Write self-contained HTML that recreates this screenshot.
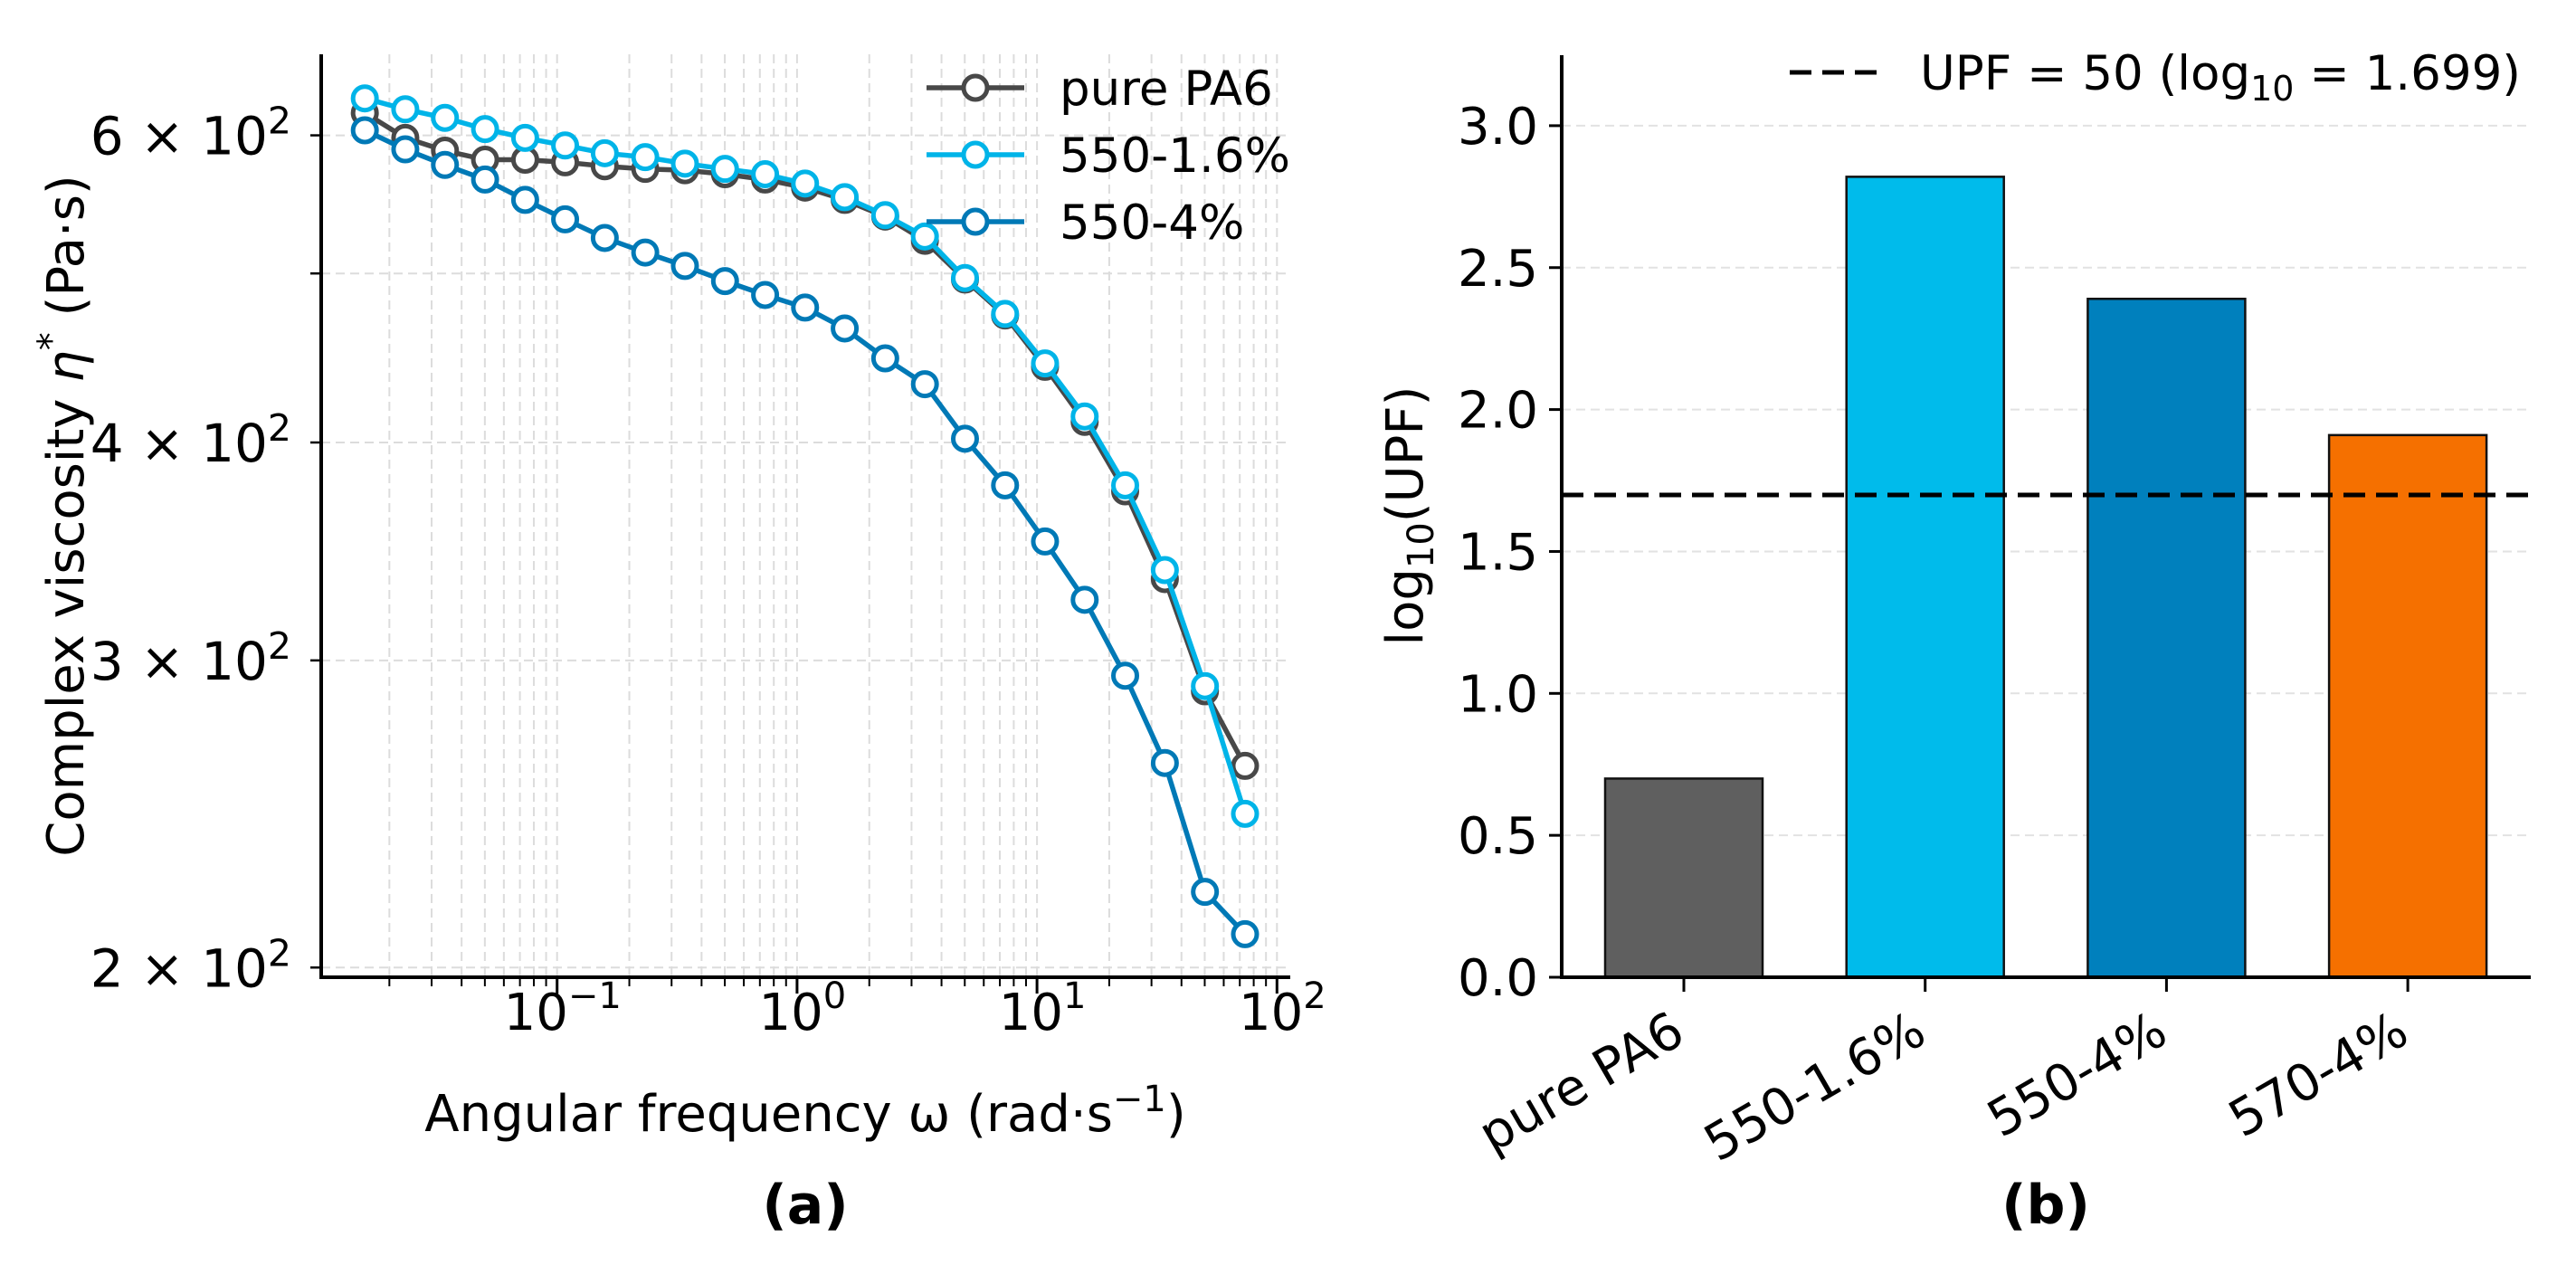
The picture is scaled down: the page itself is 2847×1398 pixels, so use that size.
<!DOCTYPE html>
<html><head><meta charset="utf-8"><title>Viscosity and UPF</title>
<style>
html,body{margin:0;padding:0;background:#fff;}
svg{display:block;font-family:"DejaVu Sans","Liberation Sans",sans-serif;}
</style></head>
<body>
<svg id="fig" xmlns="http://www.w3.org/2000/svg" width="2847" height="1398" viewBox="0 0 2847 1398">
<rect width="2847" height="1398" fill="#fff"/>
<g id="left"></g>
<g id="right"></g>
</svg>
<script>
// ---- Panel (a) data ----
const omega = [0.0158,0.0233,0.0341,0.0501,0.0736,0.108,0.158,0.233,0.341,0.501,0.736,1.08,1.58,2.33,3.41,5.01,7.36,10.8,15.8,23.3,34.1,50.1,73.6];
const etaPure = [618,598,588,581,581,579,576,574,573,570,566,560,551,539,522,496,473,442,411,375,334,288,261];
const eta550_16 = [630,621,614,605,598,592,586,583,578,574,570,563,553,540,525,497,474,444,414,378,338,290,245];
const eta550_4 = [604,589,577,566,551,537,524,514,505,495,486,478,465,447,432,402,378,351,325,294,262,221,209];
const seriesNames = ["pure PA6","550-1.6%","550-4%"];
const yTickVals = [200,300,400,600];
const yTickMant = ["2","3","4","6"];
const xTickExp = [-1,0,1,2];
// ---- Panel (b) data ----
const categories = ["pure PA6","550-1.6%","550-4%","570-4%"];
const upfLog = [0.70,2.82,2.39,1.91];
const upfThreshold = 1.699;
const barTicks = ["0.0","0.5","1.0","1.5","2.0","2.5","3.0"];

const NS="http://www.w3.org/2000/svg";
function mk(parent,tag,attrs,text){const e=document.createElementNS(NS,tag);for(const k in attrs)e.setAttribute(k,attrs[k]);if(text!==undefined)e.textContent=text;parent.appendChild(e);return e;}

// ===== Panel (a) =====
const L=document.getElementById('left');
const ax={x0:355,x1:1426,y0:60,y1:1080};
function xs(w){return 615.7+(Math.log10(w)+1)*265.2;}
function ys(v){return 489-1927.6*Math.log10(v/400);}
for(let k=-2;k<=2;k++){for(let m=1;m<=9;m++){const v=m*Math.pow(10,k);const x=xs(v);if(x<ax.x0+2||x>ax.x1-2)continue;
 const g=mk(L,'line',{x1:x,x2:x,y1:ax.y0,y2:ax.y1,stroke:'#dcdcdc','stroke-width':2,'stroke-dasharray':'10,6'});
 
 
 const t=mk(L,'line',{x1:x,x2:x,y1:ax.y1,y2:ax.y1+(m===1?18:10),stroke:'#000','stroke-width':m===1?3:2});
 
 
}}
[200,300,400,500,600].forEach(v=>{const y=ys(v);
 const g=mk(L,'line',{x1:ax.x0,x2:ax.x1,y1:y,y2:y,stroke:'#dcdcdc','stroke-width':2,'stroke-dasharray':'10,6'});
 
 
 const t=mk(L,'line',{x1:ax.x0-12,x2:ax.x0,y1:y,y2:y,stroke:'#000','stroke-width':2.5});
 
 
});
yTickVals.forEach((v,i)=>{const y=ys(v);
 const t=mk(L,'text',{x:322,y:y+21,'text-anchor':'end','font-size':58,fill:'#000'});
 
 
 mk(t,'tspan',{},yTickMant[i]+' × 10');
 mk(t,'tspan',{dy:-23,'font-size':41},'2');
});
xTickExp.forEach(e=>{const x=xs(Math.pow(10,e));
 const t=mk(L,'text',{x:x+6,y:1138,'text-anchor':'middle','font-size':56,fill:'#000'});
 
 
 mk(t,'tspan',{},'10');
 mk(t,'tspan',{dy:-24,'font-size':40},e<0?'−'+(-e):String(e));
});
mk(L,'line',{x1:ax.x0,x2:ax.x0,y1:ax.y0,y2:ax.y1+2,stroke:'#000','stroke-width':4});
mk(L,'line',{x1:ax.x0-2,x2:ax.x1,y1:ax.y1,y2:ax.y1,stroke:'#000','stroke-width':4});
const colors=['#484848','#00b4e8','#0079b6'];
const sData=[etaPure,eta550_16,eta550_4];
sData.forEach((d,si)=>{
 const g=mk(L,'g',{});
 
 
 const pts=d.map((v,i)=>xs(omega[i]).toFixed(1)+','+ys(v).toFixed(1)).join(' ');
 mk(g,'polyline',{points:pts,fill:'none',stroke:colors[si],'stroke-width':5.5,'stroke-linejoin':'round'});
 d.forEach((v,i)=>{const c=mk(g,'circle',{cx:xs(omega[i]),cy:ys(v),r:13,fill:'#fff',stroke:colors[si],'stroke-width':5});
  
  });
});
const lg=mk(L,'g',{});


seriesNames.forEach((n,i)=>{const y=97+i*74;
 const e=mk(lg,'g',{});
 
 
 mk(e,'line',{x1:1024,x2:1132,y1:y,y2:y,stroke:colors[i],'stroke-width':5.5});
 mk(e,'circle',{cx:1078,cy:y,r:13,fill:'#fff',stroke:colors[i],'stroke-width':5});
 mk(e,'text',{x:1171,y:y+19,'font-size':53,fill:'#000'},n);
});
const yl=mk(L,'text',{x:0,y:0,transform:'translate(92,570) rotate(-90)','text-anchor':'middle','font-size':56,fill:'#000'});


mk(yl,'tspan',{},'Complex viscosity ');
mk(yl,'tspan',{'font-style':'italic'},'η');
mk(yl,'tspan',{dy:-22,'font-size':40},'*');
mk(yl,'tspan',{dy:22},'  (Pa·s)');
const xl=mk(L,'text',{x:890,y:1250,'text-anchor':'middle','font-size':56,fill:'#000'});


mk(xl,'tspan',{},'Angular frequency ω (rad·s');
mk(xl,'tspan',{dy:-22,'font-size':40},'−1');
mk(xl,'tspan',{dy:22},')');
const pa=mk(L,'text',{x:890,y:1352,'text-anchor':'middle','font-size':60,'font-weight':'bold',fill:'#000'},'(a)');



// ===== Panel (b) =====
const R=document.getElementById('right');
const bx={x0:1726,x1:2797,y0:61,y1:1080};
function bxs(i){return 1861+i*266.7;}
function bys(v){return 1080-313.7*v;}
barTicks.forEach(s=>{const v=parseFloat(s);const y=bys(v);
 if(v>0){const g=mk(R,'line',{x1:bx.x0,x2:bx.x1,y1:y,y2:y,stroke:'#e2e2e2','stroke-width':2,'stroke-dasharray':'10,6'});
 
 }
 mk(R,'line',{x1:bx.x0-14,x2:bx.x0,y1:y,y2:y,stroke:'#000','stroke-width':3});
 const t=mk(R,'text',{x:1700,y:y+20,'text-anchor':'end','font-size':56,fill:'#000'},s);
 
 
});
const barColors=['#5f5f5f','#00bbeb','#0080bd','#f57000'];
categories.forEach((c,i)=>{const x=bxs(i);
 const b=mk(R,'rect',{x:x-87,y:bys(upfLog[i]),width:174,height:bys(0)-bys(upfLog[i]),fill:barColors[i],stroke:'#111','stroke-width':2.5});
 
 
 mk(R,'line',{x1:x,x2:x,y1:bx.y1,y2:bx.y1+16,stroke:'#000','stroke-width':3});
 const t=mk(R,'text',{x:0,y:0,transform:'translate('+(x+4)+',1150) rotate(-30)','text-anchor':'end','font-size':56,fill:'#000'},c);
 
 
});
const th=mk(R,'line',{x1:bx.x0,x2:bx.x1,y1:bys(upfThreshold),y2:bys(upfThreshold),stroke:'#000','stroke-width':5,'stroke-dasharray':'24,12'});


mk(R,'line',{x1:bx.x0,x2:bx.x0,y1:bx.y0,y2:bx.y1+2,stroke:'#000','stroke-width':4});
mk(R,'line',{x1:bx.x0-2,x2:bx.x1,y1:bx.y1,y2:bx.y1,stroke:'#000','stroke-width':4});
const bl=mk(R,'g',{});


mk(bl,'line',{x1:1978,x2:2074,y1:80,y2:80,stroke:'#000','stroke-width':5,'stroke-dasharray':'24,12'});
const blt=mk(bl,'text',{x:2122,y:99,'font-size':53,fill:'#000'});
mk(blt,'tspan',{},'UPF = 50 (log');
mk(blt,'tspan',{dy:12,'font-size':38},'10');
mk(blt,'tspan',{dy:-12},' = 1.699)');
const byl=mk(R,'text',{x:0,y:0,transform:'translate(1572,570) rotate(-90)','text-anchor':'middle','font-size':56,fill:'#000'});


mk(byl,'tspan',{},'log');
mk(byl,'tspan',{dy:12,'font-size':40},'10');
mk(byl,'tspan',{dy:-12},'(UPF)');
const pb=mk(R,'text',{x:2261,y:1352,'text-anchor':'middle','font-size':60,'font-weight':'bold',fill:'#000'},'(b)');


</script>
</body></html>
